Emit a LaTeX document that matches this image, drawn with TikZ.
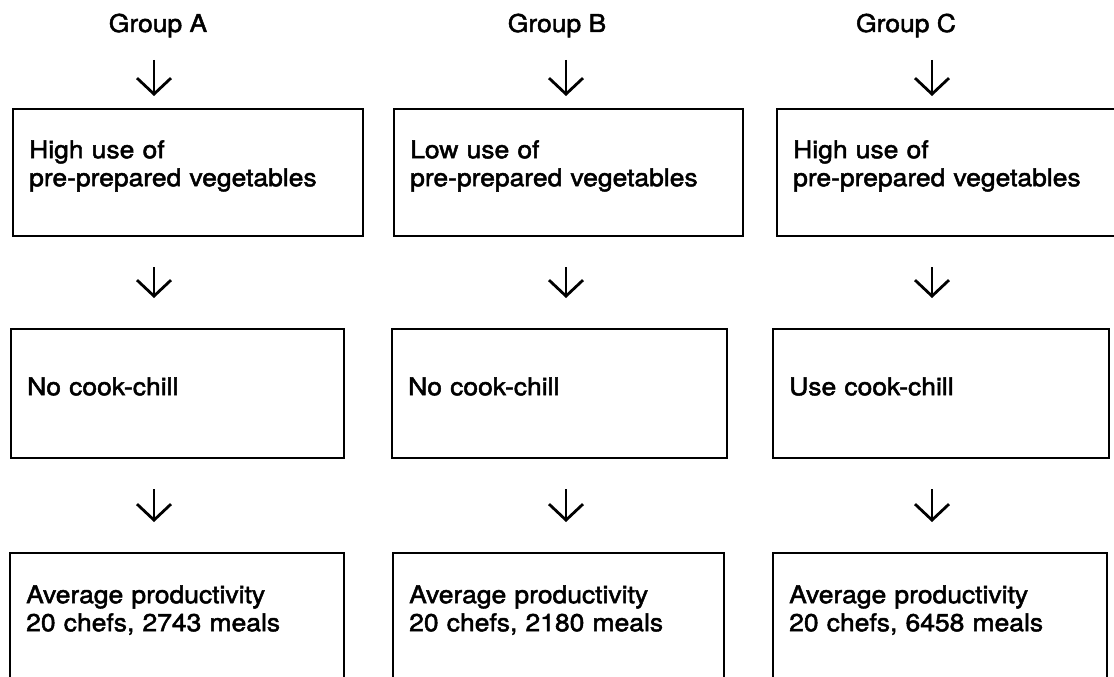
\documentclass[tikz,border=0pt]{standalone}
\usepackage{fontspec}
\setmainfont{TeX Gyre Heros}[FakeStretch=1.08,FakeBold=2]
\usetikzlibrary{arrows.meta,positioning}

\begin{document}
\begin{tikzpicture}[x=1pt,y=1pt,>={Straight Barb[length=16pt,width=34pt]},
                    line width=2.8pt,
                    font=\fontsize{24.5}{28}\selectfont]
  \tikzstyle{stage}=[draw,line width=2.4pt,anchor=north west,align=left,
                     inner xsep=16pt,inner ysep=0pt,text height=18pt]
  \tikzstyle{top stage}=[stage,text depth=47pt,minimum height=127pt]
  \tikzstyle{mid stage}=[stage,text depth=15pt,minimum height=129pt]
  \tikzstyle{low stage}=[stage,text depth=53pt,minimum height=135pt]
  \tikzstyle{flow}=[->,shorten <=30pt,shorten >=30pt]

  \useasboundingbox (0,0) rectangle (1114,-677);

  % group headings
  \node[anchor=base] (GA) at (158,-32) {Group A};
  \node[anchor=base] (GB) at (557,-32) {Group B};
  \node[anchor=base] (GC) at (906,-32) {Group C};

  % x positions of the arrows
  \coordinate (xA) at (154,0);
  \coordinate (xB) at (566,0);
  \coordinate (xC) at (932,0);

  % vegetables
  \node[top stage,text width=318pt] (A1) at (12,-108)
       {High use of\\pre-prepared vegetables};
  \node[top stage,text width=317pt] (B1) at (393,-108)
       {Low use of\\pre-prepared vegetables};
  \node[top stage,text width=318pt] (C1) at (776,-108)
       {High use of\\pre-prepared vegetables};

  % cook-chill
  \node[mid stage,text width=301pt] (A2) at (10,-328) {No cook-chill};
  \node[mid stage,text width=303pt] (B2) at (391,-328) {No cook-chill};
  \node[mid stage,text width=304pt] (C2) at (772,-328) {Use cook-chill};

  % productivity
  \node[low stage,text width=302pt] (A3) at (9,-552)
       {Average productivity\\20 chefs, 2743 meals};
  \node[low stage,text width=299pt] (B3) at (392,-552)
       {Average productivity\\20 chefs, 2180 meals};
  \node[low stage,text width=302pt] (C3) at (772,-552)
       {Average productivity\\20 chefs, 6458 meals};

  \draw[flow,shorten <=28pt,shorten >=12pt] (xA |- GA.base) -- (xA |- A1.north);
  \draw[flow,shorten <=28pt,shorten >=12pt] (xB |- GB.base) -- (xB |- B1.north);
  \draw[flow,shorten <=28pt,shorten >=12pt] (xC |- GC.base) -- (xC |- C1.north);

  \draw[flow] (xA |- A1.south) -- (xA |- A2.north);
  \draw[flow] (xB |- B1.south) -- (xB |- B2.north);
  \draw[flow] (xC |- C1.south) -- (xC |- C2.north);

  \draw[flow] (xA |- A2.south) -- (xA |- A3.north);
  \draw[flow] (xB |- B2.south) -- (xB |- B3.north);
  \draw[flow] (xC |- C2.south) -- (xC |- C3.north);
\end{tikzpicture}
\end{document}
